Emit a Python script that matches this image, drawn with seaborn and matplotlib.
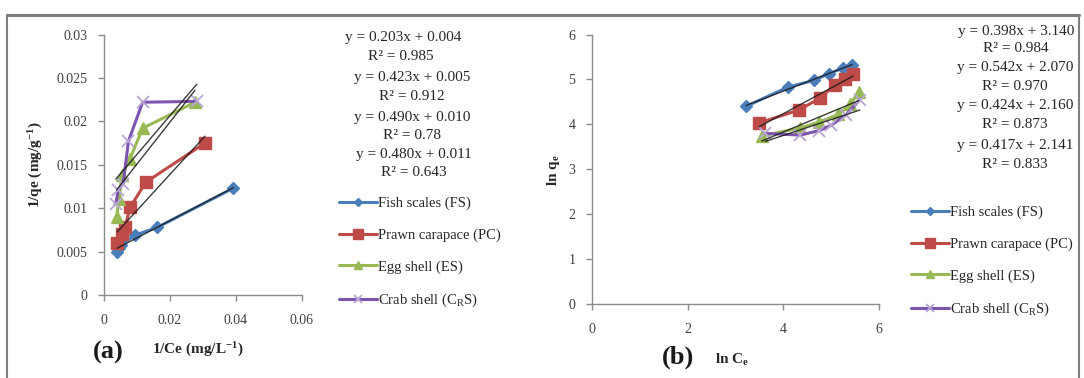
import numpy as np
import pandas as pd
import matplotlib
matplotlib.use("Agg")
import matplotlib.pyplot as plt
import seaborn as sns
from matplotlib.lines import Line2D

# ---------------- data ----------------
series_names = ["Fish scales (FS)", "Prawn carapace (PC)", "Egg shell (ES)",
                "Crab shell (C$_\\mathregular{R}$S)"]

# Panel (a): 1/Ce vs 1/qe
a_fs_x = [0.0040, 0.0046, 0.0052, 0.0095, 0.0162, 0.0392]
a_fs_y = [0.0050, 0.0054, 0.0058, 0.0069, 0.0078, 0.0123]
a_pc_x = [0.0040, 0.0054, 0.0064, 0.0079, 0.0127, 0.0306]
a_pc_y = [0.0060, 0.0070, 0.0078, 0.0101, 0.0130, 0.0175]
a_es_x = [0.0038, 0.0046, 0.0054, 0.0079, 0.0117, 0.0276]
a_es_y = [0.0090, 0.0111, 0.0138, 0.0157, 0.0192, 0.0222]
a_cs_x = [0.0036, 0.0043, 0.0058, 0.0074, 0.0117, 0.0281]
a_cs_y = [0.0105, 0.0121, 0.0128, 0.0177, 0.0222, 0.0223]

# Panel (b): ln Ce vs ln qe
b_fs_x = [3.22, 4.10, 4.64, 4.96, 5.24, 5.44]
b_fs_y = [4.40, 4.83, 4.98, 5.13, 5.25, 5.33]
b_pc_x = [3.49, 4.33, 4.76, 5.07, 5.28, 5.46]
b_pc_y = [4.03, 4.32, 4.58, 4.87, 5.01, 5.13]
b_es_x = [3.55, 4.35, 4.75, 5.15, 5.40, 5.58]
b_es_y = [3.74, 3.92, 4.05, 4.22, 4.45, 4.72]
b_cs_x = [3.62, 4.35, 4.75, 5.00, 5.30, 5.60]
b_cs_y = [3.80, 3.76, 3.86, 3.98, 4.20, 4.55]

a_equations = ["y = 0.203x + 0.004", "R\u00b2 = 0.985",
               "y = 0.423x + 0.005", "R\u00b2 = 0.912",
               "y = 0.490x + 0.010", "R\u00b2 = 0.78",
               "y = 0.480x + 0.011", "R\u00b2 = 0.643"]
b_equations = ["y = 0.398x + 3.140", "R\u00b2 = 0.984",
               "y = 0.542x + 2.070", "R\u00b2 = 0.970",
               "y = 0.424x + 2.160", "R\u00b2 = 0.873",
               "y = 0.417x + 2.141", "R\u00b2 = 0.833"]

a_xticks = [0, 0.02, 0.04, 0.06]
a_xticklabels = ["0", "0.02", "0.04", "0.06"]
a_yticks = [0, 0.005, 0.01, 0.015, 0.02, 0.025, 0.03]
a_yticklabels = ["0", "0.005", "0.01", "0.015", "0.02", "0.025", "0.03"]
b_xticks = [0, 2, 4, 6]
b_yticks = [0, 1, 2, 3, 4, 5, 6]

# ---------------- style ----------------
sns.set_style("white")
plt.rcParams["font.family"] = ["Liberation Serif", "DejaVu Serif"]
plt.rcParams["mathtext.fontset"] = "custom"
plt.rcParams["mathtext.rm"] = "Liberation Serif"
plt.rcParams["mathtext.it"] = "Liberation Serif:italic"
plt.rcParams["mathtext.bf"] = "Liberation Serif:bold"

colors = ["#4A7EBB", "#BE4B48", "#98B954", "#7D55B0"]
markers = ["D", "s", "^", "x"]
msizes = [6, 9, 8, 8]
mec = ["#4A7EBB", "#BE4B48", "#98B954", "#B9A6D6"]

W, H = 1084, 378
fig = plt.figure(figsize=(W / 100, H / 100), dpi=100)


def px_box(x0, x1, ytop, ybot):
    return [x0 / W, 1 - ybot / H, (x1 - x0) / W, (ybot - ytop) / H]


ax_a = fig.add_axes(px_box(104, 302, 34.5, 295))
ax_b = fig.add_axes(px_box(592, 879, 34.5, 304))

a_data = [(a_fs_x, a_fs_y), (a_pc_x, a_pc_y), (a_es_x, a_es_y), (a_cs_x, a_cs_y)]
b_data = [(b_fs_x, b_fs_y), (b_pc_x, b_pc_y), (b_es_x, b_es_y), (b_cs_x, b_cs_y)]

for ax, data in [(ax_a, a_data), (ax_b, b_data)]:
    for i, (xs, ys) in enumerate(data):
        df = pd.DataFrame({"x": xs, "y": ys})
        sns.lineplot(data=df, x="x", y="y", ax=ax, sort=False, color=colors[i],
                     lw=2.2, marker=markers[i], markersize=msizes[i],
                     markeredgecolor=mec[i], markerfacecolor=colors[i] if i < 3 else "none",
                     markeredgewidth=1.0 if i < 3 else 1.3,
                     label=series_names[i], zorder=3)
    for i, (xs, ys) in enumerate(data):
        df = pd.DataFrame({"x": xs, "y": ys})
        sns.regplot(data=df, x="x", y="y", ax=ax, scatter=False, ci=None,
                    truncate=True,
                    line_kws=dict(color="#1a1a1a", lw=1.0, alpha=0.85, zorder=4))

# axes formatting
spine_c = "#8c8c8c"
for ax in (ax_a, ax_b):
    for s in ["top", "right"]:
        ax.spines[s].set_visible(False)
    for s in ["left", "bottom"]:
        ax.spines[s].set_color(spine_c)
        ax.spines[s].set_linewidth(1.0)
    ax.tick_params(axis="both", which="both", direction="out", length=4,
                   width=1.0, color=spine_c, labelsize=10, labelcolor="#404040",
                   left=True, bottom=True)
    ax.set_xlabel("")
    ax.set_ylabel("")

ax_a.set_xlim(0, 0.06)
ax_a.set_ylim(0, 0.03)
ax_a.set_xticks(a_xticks)
ax_a.set_xticklabels(a_xticklabels)
ax_a.set_yticks(a_yticks)
ax_a.set_yticklabels(a_yticklabels)
ax_a.tick_params(axis="x", pad=10)
ax_a.tick_params(axis="y", pad=8)

ax_b.set_xlim(0, 6)
ax_b.set_ylim(0, 6)
ax_b.set_xticks(b_xticks)
ax_b.set_yticks(b_yticks)
ax_b.tick_params(axis="x", pad=10)
ax_b.tick_params(axis="y", pad=8)

# legends
for ax, anchor in [(ax_a, (333, 191)), (ax_b, (905, 200))]:
    ax.legend(loc="upper left", bbox_to_anchor=(anchor[0] / W, 1 - anchor[1] / H),
              bbox_transform=fig.transFigure, frameon=False, fontsize=10.5,
              handlelength=2.6, handletextpad=0.1, labelspacing=1.25,
              borderaxespad=0, markerscale=0.75)

# equation texts
a_eq_x = [403, 401, 412, 412, 412, 412, 414, 414]
a_eq_y = [38, 56, 78, 96, 117, 135, 155, 173]
b_eq_x = [1016, 1016, 1015, 1015, 1015, 1015, 1015, 1015]
b_eq_y = [31, 48, 68, 86, 106, 124, 146, 164]
for txt, xx, yy in zip(a_equations, a_eq_x, a_eq_y):
    fig.text(xx / W, 1 - yy / H, txt, ha="center", va="center", fontsize=11,
             color="#262626")
for txt, xx, yy in zip(b_equations, b_eq_x, b_eq_y):
    fig.text(xx / W, 1 - yy / H, txt, ha="center", va="center", fontsize=11,
             color="#262626")

# axis titles
fig.text(36 / W, 1 - 165 / H, "1/qe (mg/g$^{\\mathregular{-1}}$)", rotation=90,
         ha="center", va="center", fontsize=11, fontweight="bold", color="#262626")
fig.text(553 / W, 1 - 170 / H, "ln q$_\\mathregular{e}$", rotation=90,
         ha="center", va="center", fontsize=11, fontweight="bold", color="#262626")
fig.text(108 / W, 1 - 352 / H, "(a)", ha="center", va="center", fontsize=19,
         fontweight="bold", color="#1a1a1a")
fig.text(152 / W, 1 - 350 / H, "1/Ce (mg/L$^{\\mathregular{-1}}$)", ha="left",
         va="center", fontsize=11, fontweight="bold", color="#262626")
fig.text(678 / W, 1 - 357 / H, "(b)", ha="center", va="center", fontsize=19,
         fontweight="bold", color="#1a1a1a")
fig.text(715 / W, 1 - 360 / H, "ln C$_\\mathregular{e}$", ha="left",
         va="center", fontsize=11, fontweight="bold", color="#262626")

# outer frame
fig.add_artist(Line2D([7 / W, 1079 / W], [1 - 15 / H, 1 - 15 / H],
                      transform=fig.transFigure, color="#7f7f7f", lw=2.2))
fig.add_artist(Line2D([7 / W, 7 / W], [1 - 15 / H, 0],
                      transform=fig.transFigure, color="#7f7f7f", lw=1.5))
fig.add_artist(Line2D([1079 / W, 1079 / W], [1 - 15 / H, 0],
                      transform=fig.transFigure, color="#7f7f7f", lw=1.5))

fig.savefig("out.png", dpi=100)
